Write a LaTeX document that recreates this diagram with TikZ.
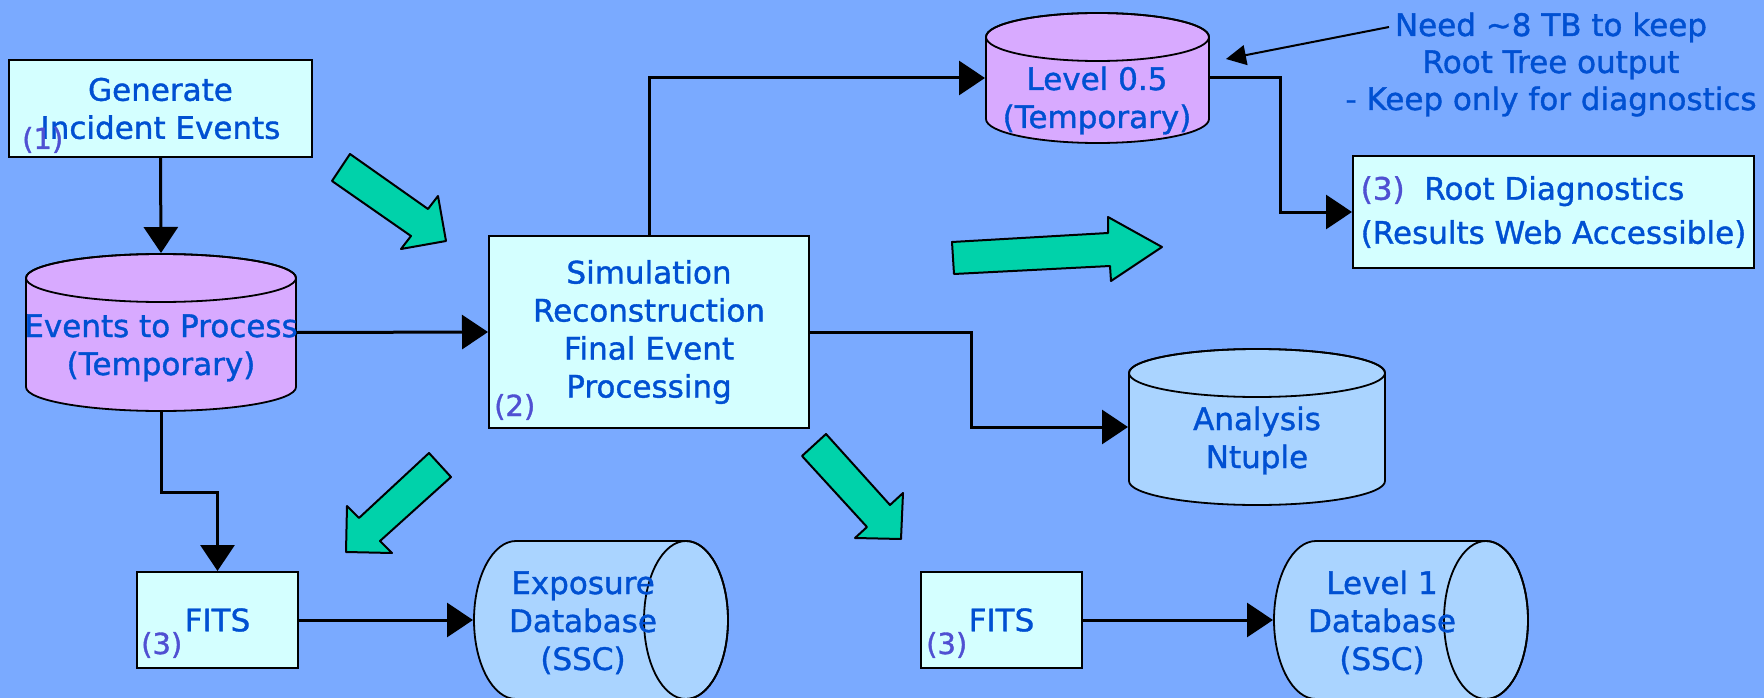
\documentclass[tikz,border=0pt]{standalone}
\usepackage{fontspec}
\setmainfont{DejaVu Sans}[FakeBold=1.2]
\usetikzlibrary{arrows.meta,calc}

\definecolor{bgblue}{RGB}{122,170,255}
\definecolor{boxcyan}{RGB}{212,255,255}
\definecolor{lilac}{RGB}{216,170,255}
\definecolor{skyblue}{RGB}{170,212,255}
\definecolor{textblue}{RGB}{0,80,210}
\definecolor{tagblue}{RGB}{80,80,210}
\definecolor{mint}{RGB}{0,210,170}

\tikzset{
  box/.style={draw=black, line width=2pt, fill=boxcyan, text=textblue, align=center,
    inner sep=4pt, font=\fontsize{31}{38}\selectfont},
  txt/.style={text=textblue, align=center, inner sep=0pt, font=\fontsize{31}{38}\selectfont},
  tag/.style={text=tagblue, inner sep=0pt, anchor=base west, font=\fontsize{29}{35}\selectfont},
  conn/.style={line width=3pt, -{Triangle[length=26pt,width=34pt]}},
  bigarrow/.style={fill=mint, draw=black, line width=2pt, line join=round},
  tankv/.style n args={3}{minimum width=#1, minimum height=#2, inner sep=0pt, outer sep=0pt,
    path picture={
      \filldraw[fill=#3, line width=1.8pt]
        ($(path picture bounding box.north west)+(1,25)$) -- ($(path picture bounding box.south west)+(1,-25)$)
        arc[start angle=180, end angle=0, x radius=#1/2-1, y radius=24]
        -- ($(path picture bounding box.north east)+(-1,25)$)
        arc[start angle=0, end angle=-180, x radius=#1/2-1, y radius=24] -- cycle;
      \draw[line width=1.8pt] ($(path picture bounding box.north)+(0,25)$) ellipse[x radius=#1/2-1, y radius=24];
    }},
  tankh/.style n args={3}{minimum width=#1, minimum height=#2, inner sep=0pt, outer sep=0pt,
    path picture={
      \filldraw[fill=#3, line width=1.8pt]
        ($(path picture bounding box.north west)+(43,1)$)
        arc[start angle=-90, end angle=-270, x radius=42, y radius=#2/2-1]
        -- ($(path picture bounding box.south east)+(-43,-1)$)
        arc[start angle=90, end angle=-90, x radius=42, y radius=#2/2-1] -- cycle;
      \draw[line width=1.8pt] ($(path picture bounding box.east)+(-43,0)$) ellipse[x radius=42, y radius=#2/2-1];
    }},
}

\begin{document}
\begin{tikzpicture}[x=1pt,y=-1pt]
\fill[bgblue] (0,0) rectangle (1764,698);
\useasboundingbox (0,0) rectangle (1764,698);

% processing steps
\node[box, minimum width=303, minimum height=97] (gen) at (160.5,108.5) {Generate\\Incident Events};
\node[box, minimum width=320, minimum height=192] (sim) at (649,332) {Simulation\\Reconstruction\\Final Event\\Processing};
\node[box, minimum width=401, minimum height=112, align=left] (rootdiag) at (1553.5,212)
  {\textcolor{tagblue}{(3)}\ \ Root Diagnostics\\[6pt](Results Web Accessible)};
\node[box, minimum width=161, minimum height=96] (fitsA) at (217.5,620) {FITS};
\node[box, minimum width=161, minimum height=96] (fitsB) at (1001.5,620) {FITS};

% storage
\node[tankv={272}{159}{lilac}] (evt) at (161,332.5) {};
\node[txt, anchor=base] (evt-txt) at (161,375) {Events to Process\\(Temporary)};
\node[tankv={225}{132}{lilac}] (lvlhalf) at (1097.5,78) {};
\node[txt, anchor=base] (lvlhalf-txt) at (1097,128) {Level 0.5\\(Temporary)};
\node[tankv={258}{158}{skyblue}] (ntuple) at (1257,427) {};
\node[txt, anchor=base] (ntuple-txt) at (1257,468) {Analysis\\Ntuple};
\node[tankh={256}{160}{skyblue}] (expdb) at (601,620) {};
\node[txt, anchor=base] (expdb-txt) at (583,670) {Exposure\\Database\\(SSC)};
\node[tankh={256}{160}{skyblue}] (lvlone) at (1401,620) {};
\node[txt, anchor=base] (lvlone-txt) at (1382,670) {Level 1\\Database\\(SSC)};

% step numbers
\node[tag] (gen-tag) at ($(gen.south west)+(14,-9)$) {(1)};
\node[tag] (sim-tag) at ($(sim.south west)+(6,-13)$) {(2)};
\node[tag] (fitsA-tag) at ($(fitsA.south west)+(5,-15)$) {(3)};
\node[tag] (fitsB-tag) at ($(fitsB.south west)+(6,-15)$) {(3)};

\node[txt, anchor=base, font=\fontsize{31}{37}\selectfont] (note) at (1551,110) {Need \textasciitilde8 TB to keep\\Root Tree output\\- Keep only for diagnostics};

% flow
\draw[conn] (gen.south) -- (evt.north);
\draw[conn] (evt.east) -- (sim.west);
\draw[conn] (sim.north) |- (lvlhalf.west);
\draw[conn] (lvlhalf.east) -- ++(70,0) |- (rootdiag.west);
\draw[conn] (sim.east) -- ++(161,0) |- (ntuple.west);
\draw[conn] (evt.south) -- ++(0,80) -| (fitsA.north);
\draw[conn] (fitsA) -- (expdb);
\draw[conn] (fitsB) -- (lvlone);
\coordinate (notetail) at (1389,27);
\coordinate (notetip) at ($(lvlhalf.east)+(16,-19)$);
\draw[line width=2pt, -{Triangle[length=20pt,width=20pt]}] (notetail) -- (notetip);

% big arrows
\filldraw[bigarrow] (350,154) -- (428,209) -- (438,196) -- (446,241) -- (401,249) -- (411,236) -- (332,181) -- cycle;
\filldraw[bigarrow] (952,242) -- (1108,233) -- (1108,217) -- (1162,247) -- (1111,281) -- (1110,266) -- (954,274) -- cycle;
\filldraw[bigarrow] (429,453) -- (451,477) -- (380,541) -- (392,553) -- (346,552) -- (347,506) -- (359,518) -- cycle;
\filldraw[bigarrow] (826,434) -- (890,505) -- (903,493) -- (901,539) -- (855,538) -- (867,527) -- (802,456) -- cycle;
\end{tikzpicture}
\end{document}
